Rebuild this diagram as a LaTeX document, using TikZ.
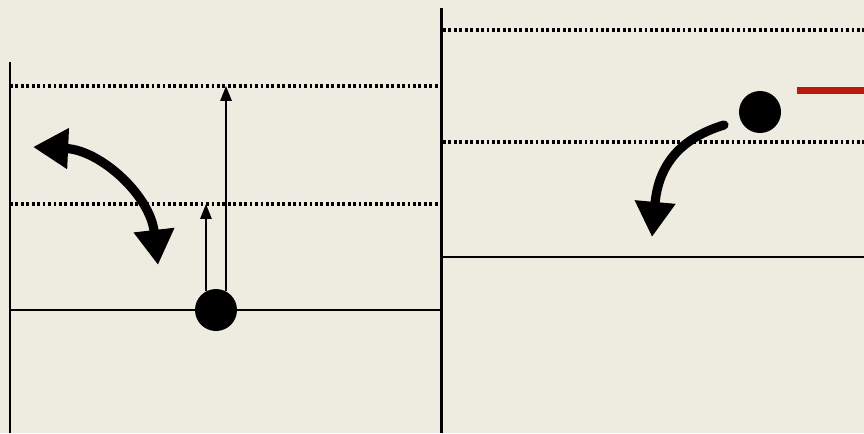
\documentclass[tikz,border=0pt]{standalone}
\usepackage{tikz}
\usetikzlibrary{arrows.meta}
\usepackage{color}
\definecolor{papier}{RGB}{238,235,225}
\definecolor{rot}{RGB}{185,26,10}

\begin{document}
\begin{tikzpicture}
     [
     x=0.02cm, y=-0.02cm,
     teilchen/.style = {circle, fill=black, inner sep=0pt, minimum size=0.84cm},
     wand/.style = {line width=1.7pt},
     boden/.style = {line width=1.3pt},
     niveau/.style = {line width=1.8pt, dash pattern=on 1.6pt off 1.5pt},
     sprung/.style = {line width=0.9pt, -{Triangle[length=8.5pt,width=6.5pt]}},
     schwung/.style = {line width=5.2pt, line cap=round, >={Triangle[length=20pt,width=22pt]}}
     ]

     \fill[papier] (0,0) rectangle (864,433);
     \useasboundingbox (0,0) rectangle (864,433);

     % linker Topf
     \draw[wand] (10,62) -- (10,433);
     \draw[niveau] (10,86) -- (438,86) coordinate (lvlA);
     \draw[niveau] (10,204) -- (438,204) coordinate (lvlB);
     \draw[boden] (10,310) -- (441,310);

     % rechter Topf
     \draw[wand] (441,8) -- (441,433);
     \draw[niveau] (443,30) -- (864,30);
     \draw[niveau] (443,142) -- (864,142);
     \draw[boden] (441,257) -- (864,257);

     \draw (216,310) node[teilchen] (ballL) {}
           (760,112) node[teilchen] (ballR) {}
           (33,147) coordinate (bogenA)
           (158,265) coordinate (bogenB)
           (724,125) coordinate (fallA)
           (652,237) coordinate (fallB)
     ;

     \draw[sprung] (ballL.118) -- (ballL.118 |- lvlB);
     \draw[sprung] (ballL.62) -- (ballL.62 |- lvlA);

     \draw[schwung,<->] (bogenA) .. controls (100,150) and (150,195) .. (bogenB);
     \draw[schwung,->] (fallA) .. controls (675,140) and (658,170) .. (fallB);

     \draw[rot, line width=4.3pt] (797,90.5) -- (864,90.5);
\end{tikzpicture}
\end{document}
